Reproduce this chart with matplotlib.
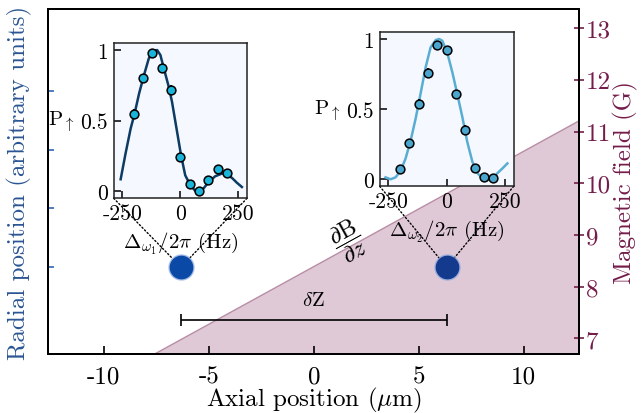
import matplotlib
matplotlib.use("Agg")
from matplotlib import pyplot as plt
from matplotlib.patches import ConnectionPatch

plt.rcParams['font.family'] = 'serif'
plt.rcParams['font.serif'] = ['cmr10']
plt.rcParams['mathtext.fontset'] = 'cm'
plt.rcParams['axes.formatter.use_mathtext'] = True

# main axes data
axial_ticks = [-10, -5, 0, 5, 10]
axial_labels = ['-10', '-5', '0', '5', '10']
field_ticks = [7, 8, 9, 10, 11, 12, 13]
radial_ticks = [0, 1, 2, 3]

# field gradient (read at the axes edges)
field_z = [-12.65, 12.65]
field_B = [5.57, 11.21]

# ion positions
atom_z = [-6.33, 6.33]
atom_r = [0.0, 0.0]
atom_colors = ['#0a4aa6', '#143a8e']

# spectra
det = [-200, -160, -120, -80, -40, 0, 40, 80, 120, 160, 200]
p1 = [0.55, 0.80, 0.98, 0.875, 0.715, 0.24, 0.05, 0.0, 0.08, 0.155, 0.13]
e1 = [0.035, 0.03, 0.01, 0.02, 0.035, 0.03, 0.015, 0.01, 0.02, 0.03, 0.025]
p2 = [0.07, 0.26, 0.54, 0.76, 0.96, 0.925, 0.605, 0.35, 0.08, 0.017, 0.007]
e2 = [0.015, 0.03, 0.035, 0.03, 0.015, 0.02, 0.035, 0.035, 0.02, 0.01, 0.01]

fit1_x = [-257, -236, -214, -197, -178, -157, -136, -115, -100, -86, -71, -50,
          -36, -14, 3, 21, 43, 64, 81, 100, 122, 150, 179, 200, 222, 243, 265]
fit1_y = [0.085, 0.267, 0.444, 0.55, 0.69, 0.82, 0.94, 0.995, 1.0, 0.965, 0.87, 0.74,
          0.634, 0.42, 0.255, 0.113, 0.043, 0.003, -0.005, 0.02, 0.066, 0.106, 0.125,
          0.118, 0.095, 0.061, 0.03]
fit2_x = [-262, -240, -219, -197, -176, -154, -133, -112, -90, -69, -47, -32, -19,
          2, 24, 45, 67, 88, 110, 132, 153, 174, 196, 217, 239, 260]
fit2_y = [0.014, 0.0, 0.014, 0.061, 0.149, 0.279, 0.433, 0.61, 0.80, 0.94, 0.993, 1.0,
          0.988, 0.905, 0.764, 0.61, 0.444, 0.267, 0.125, 0.043, 0.007, -0.005, 0.007,
          0.043, 0.078, 0.113]

blue = '#2a5593'
maroon = '#741c4a'

fig = plt.figure(figsize=(6.41, 4.14), dpi=100)
ax = fig.add_axes([48.3/641, 1-355/414, 531/641, 345/414])
axB = ax.twinx()
ax.set_zorder(axB.get_zorder() + 1)
ax.patch.set_visible(False)

axB.fill_between(field_z, field_B, 0, color='#dfc9d7', lw=0)
axB.plot(field_z, field_B, color='#b98da5', lw=1)
axB.set_ylim(6.70, 13.37)
axB.set_yticks(field_ticks)
axB.set_yticklabels([str(t) for t in field_ticks])
axB.tick_params(axis='y', colors=maroon, labelsize=18, direction='inout', length=7,
                width=1.2, pad=1)
axB.set_ylabel('Magnetic field (G)', color=maroon, fontsize=18)
axB.yaxis.set_label_coords(1.064, 0.5)

ax.set_xlim(-12.65, 12.65)
ax.set_ylim(-1.48, 4.4)
ax.set_xticks(axial_ticks)
ax.set_xticklabels(axial_labels)
ax.set_yticks(radial_ticks)
ax.set_yticklabels([])
ax.tick_params(axis='x', direction='in', length=6, width=1.2, labelsize=18, pad=8)
ax.tick_params(axis='y', direction='in', length=4.5, width=1.2, colors='#2b67b8')
ax.set_xlabel(r'Axial position ($\mu$m)', fontsize=18)
ax.xaxis.set_label_coords(0.5, -0.09)
ax.set_ylabel('Radial position (arbitrary units)', color=blue, fontsize=18)
ax.yaxis.set_label_coords(-0.031, 0.5)
for s in ax.spines.values():
    s.set_linewidth(1.4)
for s in axB.spines.values():
    s.set_linewidth(1.4)

# ions
for z, r, c in zip(atom_z, atom_r, atom_colors):
    ax.plot(z, r, 'o', ms=18, color='#7fa0dc', alpha=0.6, zorder=4)
    ax.plot(z, r, 'o', ms=16, color=c, zorder=5)

# separation bar
ax.errorbar(sum(atom_z)/2, -0.9, xerr=(atom_z[1]-atom_z[0])/2, color='black',
            lw=1.2, capsize=4.2, capthick=1.2, zorder=3)
ax.text(sum(atom_z)/2, -0.56, r'$\delta$Z', ha='center', va='center', fontsize=15)
ax.text(1.65, 0.45, r'$\dfrac{\partial \mathrm{B}}{\partial z}$', rotation=28.8,
        rotation_mode='anchor', ha='center', va='center', fontsize=17)

# insets
ins1 = fig.add_axes([113.7/641, 1-199.3/414, 133.3/641, 155.3/414], facecolor='#f5f8fe')
ins2 = fig.add_axes([379.7/641, 1-187.3/414, 134/641, 154.3/414], facecolor='#f5f8fe')
ins1.set_zorder(10)
ins2.set_zorder(10)

ins1.plot(fit1_x, fit1_y, color='#0c3b63', lw=1.8)
ins1.errorbar(det, p1, yerr=e1, fmt='o', ms=6.3, mfc='#18b4da', mec='black', mew=1.1,
              ecolor='black', elinewidth=1.6, capsize=0)
ins2.plot(fit2_x, fit2_y, color='#5aadd2', lw=1.8)
ins2.errorbar(det, p2, yerr=e2, fmt='o', ms=6.3, mfc='#4aa6cd', mec='black', mew=1.1,
              ecolor='black', elinewidth=1.6, capsize=0)

for ins, sub in [(ins1, '1'), (ins2, '2')]:
    ins.set_xlim(-287, 287)
    ins.set_ylim(-0.05, 1.05)
    ins.set_xticks([-250, 0, 250])
    ins.set_xticklabels(['-250', '0', '250'])
    ins.set_yticks([0, 0.5, 1])
    ins.set_yticklabels(['0', '0.5', '1'])
    ins.tick_params(direction='in', length=5, width=1.1, labelsize=15.5, pad=4)
    for s in ins.spines.values():
        s.set_linewidth(1.1)
        s.set_color('#222222')
    ins.set_xlabel(r'$\Delta_{\omega_%s}/2\pi$ (Hz)' % sub, fontsize=15, labelpad=5)
    ins.set_ylabel(r'P$_\uparrow$', rotation=0, ha='right', va='center',
                   fontsize=15, labelpad=4)

# dotted guide lines from insets to ions
for ins, z, r in [(ins1, atom_z[0], atom_r[0]), (ins2, atom_z[1], atom_r[1])]:
    for corner in [(0, 0), (1, 0)]:
        con = ConnectionPatch(xyA=corner, coordsA=ins.transAxes, xyB=(z, r),
                              coordsB=ax.transData, linestyle=':', color='black',
                              lw=1.0, shrinkA=0, shrinkB=8.5)
        ax.add_artist(con)

fig.savefig('out.png', dpi=100)
